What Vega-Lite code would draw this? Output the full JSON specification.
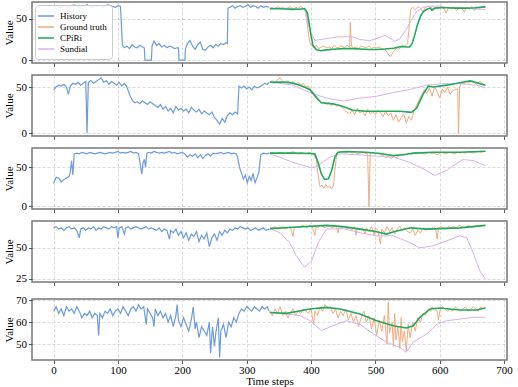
{
"$schema":"https://vega.github.io/schema/vega-lite/v6.json",
"padding":{"left":2,"top":1,"right":5,"bottom":0},
"spacing":6,
"datasets":{"d":[
{"p":1,"s":"H","x":0,"y":64},{"p":1,"s":"H","x":4,"y":66},{"p":1,"s":"H","x":8,"y":65},{"p":1,"s":"H","x":12,"y":63},{"p":1,"s":"H","x":16,"y":66},{"p":1,"s":"H","x":20,"y":65},{"p":1,"s":"H","x":24,"y":64},{"p":1,"s":"H","x":28,"y":66},{"p":1,"s":"H","x":32,"y":67},{"p":1,"s":"H","x":36,"y":65},{"p":1,"s":"H","x":40,"y":64},{"p":1,"s":"H","x":44,"y":66},{"p":1,"s":"H","x":48,"y":65},{"p":1,"s":"H","x":52,"y":67},{"p":1,"s":"H","x":56,"y":65},{"p":1,"s":"H","x":60,"y":64},{"p":1,"s":"H","x":64,"y":66},{"p":1,"s":"H","x":68,"y":65},{"p":1,"s":"H","x":72,"y":66},{"p":1,"s":"H","x":76,"y":64},{"p":1,"s":"H","x":80,"y":65},{"p":1,"s":"H","x":84,"y":67},{"p":1,"s":"H","x":88,"y":66},{"p":1,"s":"H","x":92,"y":65},{"p":1,"s":"H","x":96,"y":64},{"p":1,"s":"H","x":100,"y":66},{"p":1,"s":"H","x":104,"y":65},{"p":1,"s":"H","x":107,"y":18},{"p":1,"s":"H","x":110,"y":15},{"p":1,"s":"H","x":114,"y":17},{"p":1,"s":"H","x":118,"y":14},{"p":1,"s":"H","x":122,"y":19},{"p":1,"s":"H","x":126,"y":16},{"p":1,"s":"H","x":130,"y":15},{"p":1,"s":"H","x":134,"y":18},{"p":1,"s":"H","x":138,"y":16},{"p":1,"s":"H","x":141,"y":15},{"p":1,"s":"H","x":142,"y":0},{"p":1,"s":"H","x":148,"y":0},{"p":1,"s":"H","x":152,"y":0},{"p":1,"s":"H","x":153,"y":17},{"p":1,"s":"H","x":156,"y":23},{"p":1,"s":"H","x":160,"y":18},{"p":1,"s":"H","x":164,"y":20},{"p":1,"s":"H","x":168,"y":16},{"p":1,"s":"H","x":172,"y":18},{"p":1,"s":"H","x":176,"y":15},{"p":1,"s":"H","x":180,"y":17},{"p":1,"s":"H","x":184,"y":16},{"p":1,"s":"H","x":188,"y":14},{"p":1,"s":"H","x":192,"y":15},{"p":1,"s":"H","x":194,"y":15},{"p":1,"s":"H","x":195,"y":0},{"p":1,"s":"H","x":200,"y":0},{"p":1,"s":"H","x":204,"y":0},{"p":1,"s":"H","x":205,"y":14},{"p":1,"s":"H","x":208,"y":20},{"p":1,"s":"H","x":212,"y":24},{"p":1,"s":"H","x":216,"y":17},{"p":1,"s":"H","x":220,"y":13},{"p":1,"s":"H","x":224,"y":19},{"p":1,"s":"H","x":228,"y":22},{"p":1,"s":"H","x":232,"y":13},{"p":1,"s":"H","x":236,"y":12},{"p":1,"s":"H","x":240,"y":16},{"p":1,"s":"H","x":244,"y":18},{"p":1,"s":"H","x":248,"y":15},{"p":1,"s":"H","x":252,"y":19},{"p":1,"s":"H","x":256,"y":17},{"p":1,"s":"H","x":260,"y":20},{"p":1,"s":"H","x":264,"y":19},{"p":1,"s":"H","x":268,"y":21},{"p":1,"s":"H","x":270,"y":20},{"p":1,"s":"H","x":271,"y":63},{"p":1,"s":"H","x":274,"y":64},{"p":1,"s":"H","x":278,"y":66},{"p":1,"s":"H","x":282,"y":63},{"p":1,"s":"H","x":286,"y":65},{"p":1,"s":"H","x":290,"y":66},{"p":1,"s":"H","x":294,"y":64},{"p":1,"s":"H","x":298,"y":65},{"p":1,"s":"H","x":302,"y":67},{"p":1,"s":"H","x":306,"y":64},{"p":1,"s":"H","x":310,"y":66},{"p":1,"s":"H","x":314,"y":65},{"p":1,"s":"H","x":318,"y":63},{"p":1,"s":"H","x":322,"y":66},{"p":1,"s":"H","x":326,"y":64},{"p":1,"s":"H","x":330,"y":65},{"p":1,"s":"H","x":335,"y":64},
{"p":1,"s":"G","x":336,"y":63},{"p":1,"s":"G","x":340,"y":64},{"p":1,"s":"G","x":344,"y":62},{"p":1,"s":"G","x":348,"y":65},{"p":1,"s":"G","x":352,"y":63},{"p":1,"s":"G","x":356,"y":64},{"p":1,"s":"G","x":360,"y":62},{"p":1,"s":"G","x":364,"y":63},{"p":1,"s":"G","x":368,"y":65},{"p":1,"s":"G","x":372,"y":62},{"p":1,"s":"G","x":376,"y":64},{"p":1,"s":"G","x":380,"y":63},{"p":1,"s":"G","x":384,"y":65},{"p":1,"s":"G","x":388,"y":63},{"p":1,"s":"G","x":392,"y":60},{"p":1,"s":"G","x":395,"y":38},{"p":1,"s":"G","x":398,"y":22},{"p":1,"s":"G","x":401,"y":17},{"p":1,"s":"G","x":404,"y":15},{"p":1,"s":"G","x":408,"y":18},{"p":1,"s":"G","x":412,"y":14},{"p":1,"s":"G","x":416,"y":16},{"p":1,"s":"G","x":420,"y":17},{"p":1,"s":"G","x":424,"y":15},{"p":1,"s":"G","x":428,"y":16},{"p":1,"s":"G","x":432,"y":14},{"p":1,"s":"G","x":436,"y":18},{"p":1,"s":"G","x":440,"y":15},{"p":1,"s":"G","x":444,"y":16},{"p":1,"s":"G","x":448,"y":17},{"p":1,"s":"G","x":452,"y":15},{"p":1,"s":"G","x":456,"y":18},{"p":1,"s":"G","x":460,"y":16},{"p":1,"s":"G","x":461,"y":46},{"p":1,"s":"G","x":463,"y":17},{"p":1,"s":"G","x":466,"y":15},{"p":1,"s":"G","x":470,"y":16},{"p":1,"s":"G","x":474,"y":14},{"p":1,"s":"G","x":478,"y":17},{"p":1,"s":"G","x":482,"y":16},{"p":1,"s":"G","x":486,"y":15},{"p":1,"s":"G","x":490,"y":17},{"p":1,"s":"G","x":494,"y":14},{"p":1,"s":"G","x":498,"y":16},{"p":1,"s":"G","x":502,"y":15},{"p":1,"s":"G","x":506,"y":16},{"p":1,"s":"G","x":510,"y":14},{"p":1,"s":"G","x":514,"y":13},{"p":1,"s":"G","x":518,"y":10},{"p":1,"s":"G","x":521,"y":6},{"p":1,"s":"G","x":524,"y":4.5},{"p":1,"s":"G","x":527,"y":9},{"p":1,"s":"G","x":530,"y":12},{"p":1,"s":"G","x":534,"y":15},{"p":1,"s":"G","x":538,"y":14},{"p":1,"s":"G","x":542,"y":18},{"p":1,"s":"G","x":546,"y":17},{"p":1,"s":"G","x":550,"y":20},{"p":1,"s":"G","x":553,"y":45},{"p":1,"s":"G","x":555,"y":62},{"p":1,"s":"G","x":558,"y":64},{"p":1,"s":"G","x":562,"y":61},{"p":1,"s":"G","x":566,"y":65},{"p":1,"s":"G","x":570,"y":63},{"p":1,"s":"G","x":574,"y":58},{"p":1,"s":"G","x":578,"y":64},{"p":1,"s":"G","x":582,"y":62},{"p":1,"s":"G","x":586,"y":65},{"p":1,"s":"G","x":590,"y":60},{"p":1,"s":"G","x":594,"y":64},{"p":1,"s":"G","x":598,"y":62},{"p":1,"s":"G","x":602,"y":66},{"p":1,"s":"G","x":606,"y":63},{"p":1,"s":"G","x":610,"y":57},{"p":1,"s":"G","x":614,"y":64},{"p":1,"s":"G","x":618,"y":62},{"p":1,"s":"G","x":622,"y":65},{"p":1,"s":"G","x":626,"y":60},{"p":1,"s":"G","x":630,"y":64},{"p":1,"s":"G","x":634,"y":63},{"p":1,"s":"G","x":638,"y":58},{"p":1,"s":"G","x":642,"y":64},{"p":1,"s":"G","x":646,"y":62},{"p":1,"s":"G","x":650,"y":65},{"p":1,"s":"G","x":654,"y":60},{"p":1,"s":"G","x":658,"y":64},{"p":1,"s":"G","x":662,"y":63},{"p":1,"s":"G","x":666,"y":65},{"p":1,"s":"G","x":671,"y":64},
{"p":1,"s":"C","x":336,"y":62},{"p":1,"s":"C","x":346,"y":62.5},{"p":1,"s":"C","x":360,"y":62},{"p":1,"s":"C","x":372,"y":61.5},{"p":1,"s":"C","x":385,"y":62},{"p":1,"s":"C","x":390,"y":62.5},{"p":1,"s":"C","x":394,"y":58},{"p":1,"s":"C","x":397,"y":45},{"p":1,"s":"C","x":400,"y":30},{"p":1,"s":"C","x":403,"y":18},{"p":1,"s":"C","x":408,"y":13},{"p":1,"s":"C","x":415,"y":11.5},{"p":1,"s":"C","x":424,"y":12.5},{"p":1,"s":"C","x":440,"y":13.5},{"p":1,"s":"C","x":450,"y":14},{"p":1,"s":"C","x":465,"y":14},{"p":1,"s":"C","x":476,"y":13.5},{"p":1,"s":"C","x":490,"y":13},{"p":1,"s":"C","x":502,"y":13},{"p":1,"s":"C","x":515,"y":13.5},{"p":1,"s":"C","x":528,"y":14.5},{"p":1,"s":"C","x":540,"y":16.5},{"p":1,"s":"C","x":548,"y":16},{"p":1,"s":"C","x":553,"y":16},{"p":1,"s":"C","x":557,"y":20},{"p":1,"s":"C","x":561,"y":30},{"p":1,"s":"C","x":565,"y":42},{"p":1,"s":"C","x":570,"y":53},{"p":1,"s":"C","x":575,"y":59},{"p":1,"s":"C","x":580,"y":61.5},{"p":1,"s":"C","x":585,"y":63},{"p":1,"s":"C","x":588,"y":60.5},{"p":1,"s":"C","x":592,"y":63},{"p":1,"s":"C","x":600,"y":63.5},{"p":1,"s":"C","x":611,"y":63.5},{"p":1,"s":"C","x":625,"y":63},{"p":1,"s":"C","x":640,"y":63},{"p":1,"s":"C","x":655,"y":63.5},{"p":1,"s":"C","x":671,"y":64.5},
{"p":1,"s":"S","x":336,"y":63},{"p":1,"s":"S","x":350,"y":62.5},{"p":1,"s":"S","x":365,"y":63},{"p":1,"s":"S","x":380,"y":62},{"p":1,"s":"S","x":390,"y":62},{"p":1,"s":"S","x":395,"y":45},{"p":1,"s":"S","x":400,"y":33},{"p":1,"s":"S","x":406,"y":24},{"p":1,"s":"S","x":414,"y":25},{"p":1,"s":"S","x":424,"y":26},{"p":1,"s":"S","x":440,"y":28},{"p":1,"s":"S","x":455,"y":28.5},{"p":1,"s":"S","x":466,"y":28},{"p":1,"s":"S","x":476,"y":25},{"p":1,"s":"S","x":491,"y":23.6},{"p":1,"s":"S","x":504,"y":26.8},{"p":1,"s":"S","x":515,"y":30},{"p":1,"s":"S","x":522,"y":27},{"p":1,"s":"S","x":530,"y":22.8},{"p":1,"s":"S","x":538,"y":26},{"p":1,"s":"S","x":548,"y":37},{"p":1,"s":"S","x":556,"y":49},{"p":1,"s":"S","x":564,"y":59},{"p":1,"s":"S","x":574,"y":64},{"p":1,"s":"S","x":585,"y":65.4},{"p":1,"s":"S","x":600,"y":65.5},{"p":1,"s":"S","x":611,"y":64},{"p":1,"s":"S","x":631,"y":63},{"p":1,"s":"S","x":652,"y":62},{"p":1,"s":"S","x":671,"y":61.5},
{"p":2,"s":"H","x":0,"y":47},{"p":2,"s":"H","x":4,"y":50},{"p":2,"s":"H","x":8,"y":52},{"p":2,"s":"H","x":12,"y":51},{"p":2,"s":"H","x":16,"y":53},{"p":2,"s":"H","x":20,"y":50},{"p":2,"s":"H","x":23,"y":42},{"p":2,"s":"H","x":26,"y":51},{"p":2,"s":"H","x":30,"y":54},{"p":2,"s":"H","x":34,"y":53},{"p":2,"s":"H","x":38,"y":55},{"p":2,"s":"H","x":42,"y":52},{"p":2,"s":"H","x":46,"y":54},{"p":2,"s":"H","x":50,"y":56},{"p":2,"s":"H","x":52,"y":0},{"p":2,"s":"H","x":54,"y":55},{"p":2,"s":"H","x":58,"y":57},{"p":2,"s":"H","x":62,"y":54},{"p":2,"s":"H","x":66,"y":56},{"p":2,"s":"H","x":70,"y":58},{"p":2,"s":"H","x":74,"y":60},{"p":2,"s":"H","x":78,"y":55},{"p":2,"s":"H","x":82,"y":57},{"p":2,"s":"H","x":86,"y":53},{"p":2,"s":"H","x":90,"y":56},{"p":2,"s":"H","x":94,"y":54},{"p":2,"s":"H","x":98,"y":52},{"p":2,"s":"H","x":102,"y":55},{"p":2,"s":"H","x":106,"y":51},{"p":2,"s":"H","x":110,"y":54},{"p":2,"s":"H","x":114,"y":50},{"p":2,"s":"H","x":118,"y":42},{"p":2,"s":"H","x":122,"y":36},{"p":2,"s":"H","x":126,"y":33},{"p":2,"s":"H","x":130,"y":34},{"p":2,"s":"H","x":134,"y":32},{"p":2,"s":"H","x":138,"y":35},{"p":2,"s":"H","x":142,"y":33},{"p":2,"s":"H","x":146,"y":31},{"p":2,"s":"H","x":150,"y":34},{"p":2,"s":"H","x":154,"y":32},{"p":2,"s":"H","x":158,"y":30},{"p":2,"s":"H","x":162,"y":28},{"p":2,"s":"H","x":166,"y":31},{"p":2,"s":"H","x":170,"y":26},{"p":2,"s":"H","x":174,"y":29},{"p":2,"s":"H","x":178,"y":24},{"p":2,"s":"H","x":182,"y":27},{"p":2,"s":"H","x":186,"y":22},{"p":2,"s":"H","x":190,"y":29},{"p":2,"s":"H","x":194,"y":25},{"p":2,"s":"H","x":198,"y":27},{"p":2,"s":"H","x":202,"y":24},{"p":2,"s":"H","x":206,"y":26},{"p":2,"s":"H","x":210,"y":22},{"p":2,"s":"H","x":214,"y":28},{"p":2,"s":"H","x":218,"y":25},{"p":2,"s":"H","x":222,"y":23},{"p":2,"s":"H","x":226,"y":26},{"p":2,"s":"H","x":230,"y":21},{"p":2,"s":"H","x":234,"y":24},{"p":2,"s":"H","x":238,"y":22},{"p":2,"s":"H","x":242,"y":20},{"p":2,"s":"H","x":246,"y":23},{"p":2,"s":"H","x":250,"y":17},{"p":2,"s":"H","x":254,"y":14},{"p":2,"s":"H","x":258,"y":10},{"p":2,"s":"H","x":262,"y":16},{"p":2,"s":"H","x":266,"y":12},{"p":2,"s":"H","x":270,"y":19},{"p":2,"s":"H","x":274,"y":22},{"p":2,"s":"H","x":278,"y":20},{"p":2,"s":"H","x":282,"y":23},{"p":2,"s":"H","x":286,"y":21},{"p":2,"s":"H","x":288,"y":51},{"p":2,"s":"H","x":292,"y":49},{"p":2,"s":"H","x":296,"y":51},{"p":2,"s":"H","x":300,"y":48},{"p":2,"s":"H","x":304,"y":50},{"p":2,"s":"H","x":308,"y":47},{"p":2,"s":"H","x":312,"y":51},{"p":2,"s":"H","x":316,"y":49},{"p":2,"s":"H","x":320,"y":50},{"p":2,"s":"H","x":324,"y":52},{"p":2,"s":"H","x":328,"y":54},{"p":2,"s":"H","x":332,"y":53},{"p":2,"s":"H","x":335,"y":55},
{"p":2,"s":"G","x":336,"y":55},{"p":2,"s":"G","x":340,"y":57},{"p":2,"s":"G","x":344,"y":54},{"p":2,"s":"G","x":348,"y":58},{"p":2,"s":"G","x":352,"y":60},{"p":2,"s":"G","x":356,"y":56},{"p":2,"s":"G","x":360,"y":55},{"p":2,"s":"G","x":364,"y":57},{"p":2,"s":"G","x":368,"y":54},{"p":2,"s":"G","x":372,"y":56},{"p":2,"s":"G","x":376,"y":53},{"p":2,"s":"G","x":380,"y":55},{"p":2,"s":"G","x":384,"y":52},{"p":2,"s":"G","x":388,"y":54},{"p":2,"s":"G","x":392,"y":50},{"p":2,"s":"G","x":396,"y":51},{"p":2,"s":"G","x":400,"y":47},{"p":2,"s":"G","x":404,"y":44},{"p":2,"s":"G","x":408,"y":40},{"p":2,"s":"G","x":412,"y":36},{"p":2,"s":"G","x":416,"y":33},{"p":2,"s":"G","x":420,"y":34},{"p":2,"s":"G","x":424,"y":31},{"p":2,"s":"G","x":428,"y":33},{"p":2,"s":"G","x":432,"y":30},{"p":2,"s":"G","x":436,"y":32},{"p":2,"s":"G","x":440,"y":29},{"p":2,"s":"G","x":444,"y":31},{"p":2,"s":"G","x":448,"y":28},{"p":2,"s":"G","x":452,"y":25},{"p":2,"s":"G","x":456,"y":23},{"p":2,"s":"G","x":460,"y":21},{"p":2,"s":"G","x":464,"y":25},{"p":2,"s":"G","x":468,"y":20},{"p":2,"s":"G","x":472,"y":27},{"p":2,"s":"G","x":476,"y":22},{"p":2,"s":"G","x":480,"y":24},{"p":2,"s":"G","x":484,"y":19},{"p":2,"s":"G","x":488,"y":26},{"p":2,"s":"G","x":492,"y":21},{"p":2,"s":"G","x":496,"y":23},{"p":2,"s":"G","x":500,"y":20},{"p":2,"s":"G","x":504,"y":25},{"p":2,"s":"G","x":508,"y":22},{"p":2,"s":"G","x":512,"y":18},{"p":2,"s":"G","x":516,"y":24},{"p":2,"s":"G","x":520,"y":19},{"p":2,"s":"G","x":524,"y":22},{"p":2,"s":"G","x":528,"y":14},{"p":2,"s":"G","x":532,"y":20},{"p":2,"s":"G","x":536,"y":12},{"p":2,"s":"G","x":540,"y":17},{"p":2,"s":"G","x":544,"y":21},{"p":2,"s":"G","x":548,"y":11},{"p":2,"s":"G","x":552,"y":18},{"p":2,"s":"G","x":556,"y":14},{"p":2,"s":"G","x":560,"y":24},{"p":2,"s":"G","x":564,"y":30},{"p":2,"s":"G","x":568,"y":36},{"p":2,"s":"G","x":572,"y":42},{"p":2,"s":"G","x":576,"y":47},{"p":2,"s":"G","x":580,"y":43},{"p":2,"s":"G","x":584,"y":49},{"p":2,"s":"G","x":588,"y":40},{"p":2,"s":"G","x":592,"y":50},{"p":2,"s":"G","x":596,"y":45},{"p":2,"s":"G","x":600,"y":38},{"p":2,"s":"G","x":604,"y":48},{"p":2,"s":"G","x":608,"y":44},{"p":2,"s":"G","x":612,"y":50},{"p":2,"s":"G","x":616,"y":42},{"p":2,"s":"G","x":620,"y":46},{"p":2,"s":"G","x":624,"y":47},{"p":2,"s":"G","x":628,"y":48},{"p":2,"s":"G","x":629,"y":0},{"p":2,"s":"G","x":631,"y":50},{"p":2,"s":"G","x":634,"y":55},{"p":2,"s":"G","x":638,"y":53},{"p":2,"s":"G","x":642,"y":56},{"p":2,"s":"G","x":646,"y":54},{"p":2,"s":"G","x":650,"y":57},{"p":2,"s":"G","x":654,"y":55},{"p":2,"s":"G","x":658,"y":53},{"p":2,"s":"G","x":662,"y":56},{"p":2,"s":"G","x":666,"y":54},{"p":2,"s":"G","x":671,"y":52},
{"p":2,"s":"C","x":336,"y":55},{"p":2,"s":"C","x":350,"y":55.5},{"p":2,"s":"C","x":362,"y":55},{"p":2,"s":"C","x":370,"y":54.5},{"p":2,"s":"C","x":383,"y":52},{"p":2,"s":"C","x":398,"y":47.4},{"p":2,"s":"C","x":409,"y":38},{"p":2,"s":"C","x":416,"y":33},{"p":2,"s":"C","x":434,"y":31.8},{"p":2,"s":"C","x":450,"y":29},{"p":2,"s":"C","x":465,"y":24.8},{"p":2,"s":"C","x":486,"y":23.7},{"p":2,"s":"C","x":517,"y":23.7},{"p":2,"s":"C","x":538,"y":23.7},{"p":2,"s":"C","x":556,"y":22.6},{"p":2,"s":"C","x":564,"y":27},{"p":2,"s":"C","x":574,"y":42},{"p":2,"s":"C","x":582,"y":51},{"p":2,"s":"C","x":590,"y":50},{"p":2,"s":"C","x":611,"y":52},{"p":2,"s":"C","x":631,"y":54.7},{"p":2,"s":"C","x":647,"y":56.6},{"p":2,"s":"C","x":671,"y":52},
{"p":2,"s":"S","x":336,"y":55},{"p":2,"s":"S","x":350,"y":54},{"p":2,"s":"S","x":372,"y":52},{"p":2,"s":"S","x":398,"y":44},{"p":2,"s":"S","x":424,"y":38},{"p":2,"s":"S","x":450,"y":34.7},{"p":2,"s":"S","x":476,"y":38},{"p":2,"s":"S","x":502,"y":40},{"p":2,"s":"S","x":528,"y":44},{"p":2,"s":"S","x":554,"y":47.4},{"p":2,"s":"S","x":580,"y":52},{"p":2,"s":"S","x":605,"y":53.6},{"p":2,"s":"S","x":631,"y":53.6},{"p":2,"s":"S","x":657,"y":52},{"p":2,"s":"S","x":671,"y":49},
{"p":3,"s":"H","x":0,"y":29},{"p":3,"s":"H","x":4,"y":37},{"p":3,"s":"H","x":8,"y":36},{"p":3,"s":"H","x":12,"y":31},{"p":3,"s":"H","x":16,"y":34},{"p":3,"s":"H","x":20,"y":36},{"p":3,"s":"H","x":24,"y":38},{"p":3,"s":"H","x":26,"y":44},{"p":3,"s":"H","x":28,"y":58},{"p":3,"s":"H","x":30,"y":40},{"p":3,"s":"H","x":32,"y":67},{"p":3,"s":"H","x":36,"y":68},{"p":3,"s":"H","x":40,"y":67},{"p":3,"s":"H","x":44,"y":69},{"p":3,"s":"H","x":48,"y":68},{"p":3,"s":"H","x":52,"y":67},{"p":3,"s":"H","x":56,"y":69},{"p":3,"s":"H","x":60,"y":68},{"p":3,"s":"H","x":64,"y":67},{"p":3,"s":"H","x":68,"y":68},{"p":3,"s":"H","x":72,"y":69},{"p":3,"s":"H","x":76,"y":68},{"p":3,"s":"H","x":80,"y":67},{"p":3,"s":"H","x":84,"y":68},{"p":3,"s":"H","x":88,"y":69},{"p":3,"s":"H","x":92,"y":68},{"p":3,"s":"H","x":96,"y":69},{"p":3,"s":"H","x":100,"y":70},{"p":3,"s":"H","x":104,"y":68},{"p":3,"s":"H","x":108,"y":69},{"p":3,"s":"H","x":112,"y":68},{"p":3,"s":"H","x":116,"y":69},{"p":3,"s":"H","x":120,"y":70},{"p":3,"s":"H","x":124,"y":68},{"p":3,"s":"H","x":128,"y":69},{"p":3,"s":"H","x":132,"y":67},{"p":3,"s":"H","x":135,"y":52},{"p":3,"s":"H","x":137,"y":41},{"p":3,"s":"H","x":139,"y":55},{"p":3,"s":"H","x":141,"y":60},{"p":3,"s":"H","x":143,"y":50},{"p":3,"s":"H","x":145,"y":68},{"p":3,"s":"H","x":148,"y":69},{"p":3,"s":"H","x":152,"y":68},{"p":3,"s":"H","x":156,"y":70},{"p":3,"s":"H","x":160,"y":69},{"p":3,"s":"H","x":164,"y":68},{"p":3,"s":"H","x":168,"y":69},{"p":3,"s":"H","x":172,"y":68},{"p":3,"s":"H","x":176,"y":69},{"p":3,"s":"H","x":180,"y":70},{"p":3,"s":"H","x":184,"y":68},{"p":3,"s":"H","x":188,"y":69},{"p":3,"s":"H","x":192,"y":67},{"p":3,"s":"H","x":196,"y":68},{"p":3,"s":"H","x":200,"y":69},{"p":3,"s":"H","x":204,"y":67},{"p":3,"s":"H","x":208,"y":63},{"p":3,"s":"H","x":212,"y":66},{"p":3,"s":"H","x":216,"y":64},{"p":3,"s":"H","x":220,"y":67},{"p":3,"s":"H","x":224,"y":62},{"p":3,"s":"H","x":228,"y":66},{"p":3,"s":"H","x":232,"y":61},{"p":3,"s":"H","x":236,"y":65},{"p":3,"s":"H","x":240,"y":67},{"p":3,"s":"H","x":244,"y":64},{"p":3,"s":"H","x":248,"y":68},{"p":3,"s":"H","x":252,"y":67},{"p":3,"s":"H","x":256,"y":68},{"p":3,"s":"H","x":260,"y":69},{"p":3,"s":"H","x":264,"y":67},{"p":3,"s":"H","x":268,"y":68},{"p":3,"s":"H","x":272,"y":69},{"p":3,"s":"H","x":276,"y":67},{"p":3,"s":"H","x":280,"y":68},{"p":3,"s":"H","x":284,"y":67},{"p":3,"s":"H","x":286,"y":62},{"p":3,"s":"H","x":289,"y":50},{"p":3,"s":"H","x":292,"y":42},{"p":3,"s":"H","x":295,"y":35},{"p":3,"s":"H","x":298,"y":40},{"p":3,"s":"H","x":301,"y":30},{"p":3,"s":"H","x":304,"y":38},{"p":3,"s":"H","x":307,"y":33},{"p":3,"s":"H","x":310,"y":42},{"p":3,"s":"H","x":313,"y":30},{"p":3,"s":"H","x":316,"y":36},{"p":3,"s":"H","x":319,"y":44},{"p":3,"s":"H","x":322,"y":66},{"p":3,"s":"H","x":326,"y":68},{"p":3,"s":"H","x":330,"y":67},{"p":3,"s":"H","x":335,"y":68},
{"p":3,"s":"G","x":336,"y":68},{"p":3,"s":"G","x":340,"y":69},{"p":3,"s":"G","x":344,"y":67},{"p":3,"s":"G","x":348,"y":68},{"p":3,"s":"G","x":352,"y":69},{"p":3,"s":"G","x":356,"y":68},{"p":3,"s":"G","x":360,"y":67},{"p":3,"s":"G","x":364,"y":69},{"p":3,"s":"G","x":368,"y":68},{"p":3,"s":"G","x":372,"y":70},{"p":3,"s":"G","x":376,"y":68},{"p":3,"s":"G","x":380,"y":67},{"p":3,"s":"G","x":384,"y":69},{"p":3,"s":"G","x":388,"y":68},{"p":3,"s":"G","x":392,"y":67},{"p":3,"s":"G","x":396,"y":69},{"p":3,"s":"G","x":400,"y":68},{"p":3,"s":"G","x":404,"y":66},{"p":3,"s":"G","x":408,"y":60},{"p":3,"s":"G","x":411,"y":40},{"p":3,"s":"G","x":414,"y":25},{"p":3,"s":"G","x":417,"y":27},{"p":3,"s":"G","x":420,"y":23},{"p":3,"s":"G","x":423,"y":28},{"p":3,"s":"G","x":426,"y":24},{"p":3,"s":"G","x":429,"y":26},{"p":3,"s":"G","x":432,"y":22},{"p":3,"s":"G","x":435,"y":27},{"p":3,"s":"G","x":437,"y":45},{"p":3,"s":"G","x":440,"y":68},{"p":3,"s":"G","x":444,"y":69},{"p":3,"s":"G","x":448,"y":70},{"p":3,"s":"G","x":452,"y":68},{"p":3,"s":"G","x":456,"y":69},{"p":3,"s":"G","x":460,"y":70},{"p":3,"s":"G","x":464,"y":68},{"p":3,"s":"G","x":468,"y":69},{"p":3,"s":"G","x":472,"y":67},{"p":3,"s":"G","x":476,"y":68},{"p":3,"s":"G","x":480,"y":69},{"p":3,"s":"G","x":484,"y":68},{"p":3,"s":"G","x":488,"y":67},{"p":3,"s":"G","x":490,"y":0},{"p":3,"s":"G","x":492,"y":68},{"p":3,"s":"G","x":496,"y":69},{"p":3,"s":"G","x":500,"y":67},{"p":3,"s":"G","x":504,"y":68},{"p":3,"s":"G","x":508,"y":66},{"p":3,"s":"G","x":512,"y":65},{"p":3,"s":"G","x":516,"y":62},{"p":3,"s":"G","x":520,"y":64},{"p":3,"s":"G","x":524,"y":61},{"p":3,"s":"G","x":528,"y":63},{"p":3,"s":"G","x":532,"y":62},{"p":3,"s":"G","x":536,"y":64},{"p":3,"s":"G","x":540,"y":66},{"p":3,"s":"G","x":544,"y":65},{"p":3,"s":"G","x":548,"y":67},{"p":3,"s":"G","x":552,"y":68},{"p":3,"s":"G","x":556,"y":66},{"p":3,"s":"G","x":560,"y":68},{"p":3,"s":"G","x":564,"y":67},{"p":3,"s":"G","x":568,"y":69},{"p":3,"s":"G","x":572,"y":68},{"p":3,"s":"G","x":576,"y":67},{"p":3,"s":"G","x":580,"y":68},{"p":3,"s":"G","x":584,"y":69},{"p":3,"s":"G","x":588,"y":67},{"p":3,"s":"G","x":592,"y":68},{"p":3,"s":"G","x":596,"y":66},{"p":3,"s":"G","x":600,"y":68},{"p":3,"s":"G","x":604,"y":69},{"p":3,"s":"G","x":608,"y":67},{"p":3,"s":"G","x":612,"y":68},{"p":3,"s":"G","x":616,"y":69},{"p":3,"s":"G","x":620,"y":68},{"p":3,"s":"G","x":624,"y":67},{"p":3,"s":"G","x":628,"y":69},{"p":3,"s":"G","x":632,"y":68},{"p":3,"s":"G","x":636,"y":69},{"p":3,"s":"G","x":640,"y":68},{"p":3,"s":"G","x":644,"y":70},{"p":3,"s":"G","x":648,"y":69},{"p":3,"s":"G","x":652,"y":68},{"p":3,"s":"G","x":656,"y":69},{"p":3,"s":"G","x":660,"y":70},{"p":3,"s":"G","x":664,"y":69},{"p":3,"s":"G","x":668,"y":70},{"p":3,"s":"G","x":671,"y":70},
{"p":3,"s":"C","x":336,"y":68},{"p":3,"s":"C","x":372,"y":68},{"p":3,"s":"C","x":400,"y":67.5},{"p":3,"s":"C","x":406,"y":67},{"p":3,"s":"C","x":411,"y":56},{"p":3,"s":"C","x":416,"y":41.5},{"p":3,"s":"C","x":421,"y":34.3},{"p":3,"s":"C","x":427,"y":35},{"p":3,"s":"C","x":432,"y":45.8},{"p":3,"s":"C","x":437,"y":62.7},{"p":3,"s":"C","x":442,"y":69},{"p":3,"s":"C","x":455,"y":70},{"p":3,"s":"C","x":486,"y":69},{"p":3,"s":"C","x":507,"y":67.5},{"p":3,"s":"C","x":528,"y":64.8},{"p":3,"s":"C","x":548,"y":66.5},{"p":3,"s":"C","x":559,"y":68},{"p":3,"s":"C","x":590,"y":69},{"p":3,"s":"C","x":631,"y":69},{"p":3,"s":"C","x":671,"y":70.3},
{"p":3,"s":"S","x":336,"y":67},{"p":3,"s":"S","x":352,"y":62.7},{"p":3,"s":"S","x":372,"y":56},{"p":3,"s":"S","x":398,"y":50},{"p":3,"s":"S","x":406,"y":50},{"p":3,"s":"S","x":414,"y":54},{"p":3,"s":"S","x":429,"y":62.7},{"p":3,"s":"S","x":445,"y":67},{"p":3,"s":"S","x":476,"y":65.7},{"p":3,"s":"S","x":502,"y":64},{"p":3,"s":"S","x":528,"y":62.7},{"p":3,"s":"S","x":554,"y":56},{"p":3,"s":"S","x":574,"y":48},{"p":3,"s":"S","x":592,"y":39.4},{"p":3,"s":"S","x":611,"y":45.8},{"p":3,"s":"S","x":621,"y":52},{"p":3,"s":"S","x":636,"y":59.7},{"p":3,"s":"S","x":652,"y":58.5},{"p":3,"s":"S","x":671,"y":52},
{"p":4,"s":"H","x":0,"y":66},{"p":4,"s":"H","x":4,"y":67},{"p":4,"s":"H","x":8,"y":65},{"p":4,"s":"H","x":12,"y":66},{"p":4,"s":"H","x":16,"y":64},{"p":4,"s":"H","x":20,"y":66},{"p":4,"s":"H","x":24,"y":67},{"p":4,"s":"H","x":28,"y":65},{"p":4,"s":"H","x":32,"y":66},{"p":4,"s":"H","x":36,"y":64},{"p":4,"s":"H","x":40,"y":58},{"p":4,"s":"H","x":42,"y":65},{"p":4,"s":"H","x":46,"y":66},{"p":4,"s":"H","x":50,"y":64},{"p":4,"s":"H","x":54,"y":66},{"p":4,"s":"H","x":58,"y":65},{"p":4,"s":"H","x":62,"y":67},{"p":4,"s":"H","x":66,"y":64},{"p":4,"s":"H","x":70,"y":66},{"p":4,"s":"H","x":74,"y":65},{"p":4,"s":"H","x":78,"y":67},{"p":4,"s":"H","x":82,"y":66},{"p":4,"s":"H","x":86,"y":65},{"p":4,"s":"H","x":90,"y":67},{"p":4,"s":"H","x":94,"y":66},{"p":4,"s":"H","x":98,"y":67},{"p":4,"s":"H","x":100,"y":58},{"p":4,"s":"H","x":102,"y":66},{"p":4,"s":"H","x":106,"y":67},{"p":4,"s":"H","x":110,"y":61},{"p":4,"s":"H","x":112,"y":66},{"p":4,"s":"H","x":116,"y":67},{"p":4,"s":"H","x":120,"y":65},{"p":4,"s":"H","x":124,"y":66},{"p":4,"s":"H","x":128,"y":67},{"p":4,"s":"H","x":132,"y":66},{"p":4,"s":"H","x":136,"y":65},{"p":4,"s":"H","x":140,"y":66},{"p":4,"s":"H","x":144,"y":67},{"p":4,"s":"H","x":148,"y":65},{"p":4,"s":"H","x":152,"y":66},{"p":4,"s":"H","x":156,"y":65},{"p":4,"s":"H","x":160,"y":64},{"p":4,"s":"H","x":164,"y":66},{"p":4,"s":"H","x":168,"y":63},{"p":4,"s":"H","x":172,"y":65},{"p":4,"s":"H","x":176,"y":64},{"p":4,"s":"H","x":180,"y":57},{"p":4,"s":"H","x":182,"y":64},{"p":4,"s":"H","x":186,"y":62},{"p":4,"s":"H","x":190,"y":65},{"p":4,"s":"H","x":194,"y":60},{"p":4,"s":"H","x":198,"y":63},{"p":4,"s":"H","x":202,"y":58},{"p":4,"s":"H","x":206,"y":62},{"p":4,"s":"H","x":210,"y":56},{"p":4,"s":"H","x":214,"y":61},{"p":4,"s":"H","x":218,"y":59},{"p":4,"s":"H","x":222,"y":63},{"p":4,"s":"H","x":226,"y":55},{"p":4,"s":"H","x":230,"y":60},{"p":4,"s":"H","x":234,"y":57},{"p":4,"s":"H","x":238,"y":62},{"p":4,"s":"H","x":242,"y":51},{"p":4,"s":"H","x":246,"y":58},{"p":4,"s":"H","x":250,"y":61},{"p":4,"s":"H","x":254,"y":56},{"p":4,"s":"H","x":258,"y":63},{"p":4,"s":"H","x":262,"y":60},{"p":4,"s":"H","x":266,"y":64},{"p":4,"s":"H","x":270,"y":62},{"p":4,"s":"H","x":274,"y":65},{"p":4,"s":"H","x":278,"y":64},{"p":4,"s":"H","x":282,"y":66},{"p":4,"s":"H","x":286,"y":65},{"p":4,"s":"H","x":290,"y":67},{"p":4,"s":"H","x":294,"y":66},{"p":4,"s":"H","x":298,"y":65},{"p":4,"s":"H","x":302,"y":66},{"p":4,"s":"H","x":306,"y":64},{"p":4,"s":"H","x":310,"y":65},{"p":4,"s":"H","x":314,"y":66},{"p":4,"s":"H","x":318,"y":64},{"p":4,"s":"H","x":322,"y":65},{"p":4,"s":"H","x":326,"y":66},{"p":4,"s":"H","x":330,"y":64},{"p":4,"s":"H","x":335,"y":65},
{"p":4,"s":"G","x":336,"y":65},{"p":4,"s":"G","x":340,"y":66},{"p":4,"s":"G","x":344,"y":67},{"p":4,"s":"G","x":348,"y":65},{"p":4,"s":"G","x":352,"y":66},{"p":4,"s":"G","x":356,"y":67},{"p":4,"s":"G","x":360,"y":65},{"p":4,"s":"G","x":364,"y":66},{"p":4,"s":"G","x":368,"y":67},{"p":4,"s":"G","x":372,"y":59},{"p":4,"s":"G","x":374,"y":66},{"p":4,"s":"G","x":378,"y":67},{"p":4,"s":"G","x":382,"y":66},{"p":4,"s":"G","x":386,"y":68},{"p":4,"s":"G","x":390,"y":67},{"p":4,"s":"G","x":394,"y":66},{"p":4,"s":"G","x":398,"y":68},{"p":4,"s":"G","x":402,"y":67},{"p":4,"s":"G","x":406,"y":60},{"p":4,"s":"G","x":408,"y":67},{"p":4,"s":"G","x":412,"y":66},{"p":4,"s":"G","x":414,"y":68},{"p":4,"s":"G","x":418,"y":67},{"p":4,"s":"G","x":422,"y":66},{"p":4,"s":"G","x":426,"y":68},{"p":4,"s":"G","x":430,"y":67},{"p":4,"s":"G","x":434,"y":66},{"p":4,"s":"G","x":438,"y":68},{"p":4,"s":"G","x":442,"y":62},{"p":4,"s":"G","x":444,"y":67},{"p":4,"s":"G","x":448,"y":66},{"p":4,"s":"G","x":452,"y":67},{"p":4,"s":"G","x":456,"y":65},{"p":4,"s":"G","x":460,"y":66},{"p":4,"s":"G","x":464,"y":64},{"p":4,"s":"G","x":468,"y":67},{"p":4,"s":"G","x":470,"y":60},{"p":4,"s":"G","x":472,"y":66},{"p":4,"s":"G","x":476,"y":65},{"p":4,"s":"G","x":480,"y":66},{"p":4,"s":"G","x":484,"y":61},{"p":4,"s":"G","x":486,"y":66},{"p":4,"s":"G","x":490,"y":63},{"p":4,"s":"G","x":494,"y":67},{"p":4,"s":"G","x":498,"y":60},{"p":4,"s":"G","x":500,"y":66},{"p":4,"s":"G","x":504,"y":64},{"p":4,"s":"G","x":508,"y":53},{"p":4,"s":"G","x":510,"y":65},{"p":4,"s":"G","x":514,"y":62},{"p":4,"s":"G","x":518,"y":67},{"p":4,"s":"G","x":522,"y":63},{"p":4,"s":"G","x":526,"y":66},{"p":4,"s":"G","x":530,"y":61},{"p":4,"s":"G","x":534,"y":65},{"p":4,"s":"G","x":538,"y":67},{"p":4,"s":"G","x":542,"y":64},{"p":4,"s":"G","x":546,"y":66},{"p":4,"s":"G","x":550,"y":63},{"p":4,"s":"G","x":554,"y":62},{"p":4,"s":"G","x":558,"y":65},{"p":4,"s":"G","x":562,"y":60},{"p":4,"s":"G","x":566,"y":64},{"p":4,"s":"G","x":570,"y":62},{"p":4,"s":"G","x":574,"y":66},{"p":4,"s":"G","x":578,"y":64},{"p":4,"s":"G","x":582,"y":66},{"p":4,"s":"G","x":586,"y":65},{"p":4,"s":"G","x":590,"y":67},{"p":4,"s":"G","x":594,"y":65},{"p":4,"s":"G","x":596,"y":57},{"p":4,"s":"G","x":598,"y":66},{"p":4,"s":"G","x":602,"y":67},{"p":4,"s":"G","x":606,"y":66},{"p":4,"s":"G","x":610,"y":65},{"p":4,"s":"G","x":614,"y":67},{"p":4,"s":"G","x":618,"y":66},{"p":4,"s":"G","x":622,"y":67},{"p":4,"s":"G","x":626,"y":66},{"p":4,"s":"G","x":630,"y":68},{"p":4,"s":"G","x":634,"y":67},{"p":4,"s":"G","x":638,"y":66},{"p":4,"s":"G","x":642,"y":67},{"p":4,"s":"G","x":646,"y":68},{"p":4,"s":"G","x":650,"y":66},{"p":4,"s":"G","x":654,"y":67},{"p":4,"s":"G","x":658,"y":68},{"p":4,"s":"G","x":662,"y":67},{"p":4,"s":"G","x":666,"y":68},{"p":4,"s":"G","x":671,"y":68},
{"p":4,"s":"C","x":336,"y":65.4},{"p":4,"s":"C","x":372,"y":66.5},{"p":4,"s":"C","x":424,"y":68},{"p":4,"s":"C","x":450,"y":67},{"p":4,"s":"C","x":476,"y":65},{"p":4,"s":"C","x":500,"y":63},{"p":4,"s":"C","x":517,"y":61},{"p":4,"s":"C","x":530,"y":63},{"p":4,"s":"C","x":554,"y":66},{"p":4,"s":"C","x":580,"y":65},{"p":4,"s":"C","x":631,"y":66},{"p":4,"s":"C","x":671,"y":68},
{"p":4,"s":"S","x":336,"y":65.4},{"p":4,"s":"S","x":352,"y":62},{"p":4,"s":"S","x":367,"y":54},{"p":4,"s":"S","x":377,"y":43.6},{"p":4,"s":"S","x":390,"y":34.3},{"p":4,"s":"S","x":401,"y":39.6},{"p":4,"s":"S","x":411,"y":54},{"p":4,"s":"S","x":424,"y":65},{"p":4,"s":"S","x":450,"y":65.4},{"p":4,"s":"S","x":476,"y":62},{"p":4,"s":"S","x":502,"y":59.6},{"p":4,"s":"S","x":528,"y":59.6},{"p":4,"s":"S","x":554,"y":54},{"p":4,"s":"S","x":569,"y":50},{"p":4,"s":"S","x":590,"y":51.6},{"p":4,"s":"S","x":611,"y":55.6},{"p":4,"s":"S","x":631,"y":59.6},{"p":4,"s":"S","x":642,"y":58},{"p":4,"s":"S","x":652,"y":46},{"p":4,"s":"S","x":662,"y":31.6},{"p":4,"s":"S","x":671,"y":25},
{"p":5,"s":"H","x":0,"y":65},{"p":5,"s":"H","x":4,"y":67},{"p":5,"s":"H","x":8,"y":64},{"p":5,"s":"H","x":12,"y":66},{"p":5,"s":"H","x":16,"y":63},{"p":5,"s":"H","x":20,"y":67},{"p":5,"s":"H","x":24,"y":65},{"p":5,"s":"H","x":28,"y":66},{"p":5,"s":"H","x":32,"y":64},{"p":5,"s":"H","x":36,"y":67},{"p":5,"s":"H","x":40,"y":65},{"p":5,"s":"H","x":44,"y":62},{"p":5,"s":"H","x":48,"y":64},{"p":5,"s":"H","x":52,"y":63},{"p":5,"s":"H","x":56,"y":65},{"p":5,"s":"H","x":60,"y":62},{"p":5,"s":"H","x":64,"y":64},{"p":5,"s":"H","x":68,"y":63},{"p":5,"s":"H","x":70,"y":54},{"p":5,"s":"H","x":72,"y":64},{"p":5,"s":"H","x":76,"y":62},{"p":5,"s":"H","x":80,"y":65},{"p":5,"s":"H","x":84,"y":64},{"p":5,"s":"H","x":88,"y":66},{"p":5,"s":"H","x":92,"y":63},{"p":5,"s":"H","x":96,"y":65},{"p":5,"s":"H","x":100,"y":66},{"p":5,"s":"H","x":104,"y":64},{"p":5,"s":"H","x":108,"y":67},{"p":5,"s":"H","x":112,"y":65},{"p":5,"s":"H","x":116,"y":63},{"p":5,"s":"H","x":120,"y":66},{"p":5,"s":"H","x":124,"y":67},{"p":5,"s":"H","x":128,"y":65},{"p":5,"s":"H","x":132,"y":68},{"p":5,"s":"H","x":136,"y":66},{"p":5,"s":"H","x":140,"y":67},{"p":5,"s":"H","x":144,"y":59},{"p":5,"s":"H","x":146,"y":66},{"p":5,"s":"H","x":150,"y":64},{"p":5,"s":"H","x":154,"y":62},{"p":5,"s":"H","x":156,"y":58},{"p":5,"s":"H","x":158,"y":66},{"p":5,"s":"H","x":162,"y":63},{"p":5,"s":"H","x":166,"y":65},{"p":5,"s":"H","x":170,"y":62},{"p":5,"s":"H","x":174,"y":64},{"p":5,"s":"H","x":178,"y":60},{"p":5,"s":"H","x":182,"y":63},{"p":5,"s":"H","x":186,"y":58},{"p":5,"s":"H","x":190,"y":63},{"p":5,"s":"H","x":192,"y":68},{"p":5,"s":"H","x":194,"y":61},{"p":5,"s":"H","x":198,"y":58},{"p":5,"s":"H","x":202,"y":62},{"p":5,"s":"H","x":206,"y":59},{"p":5,"s":"H","x":210,"y":56},{"p":5,"s":"H","x":214,"y":61},{"p":5,"s":"H","x":217,"y":67},{"p":5,"s":"H","x":220,"y":57},{"p":5,"s":"H","x":222,"y":60},{"p":5,"s":"H","x":226,"y":53},{"p":5,"s":"H","x":230,"y":58},{"p":5,"s":"H","x":234,"y":56},{"p":5,"s":"H","x":238,"y":54},{"p":5,"s":"H","x":242,"y":60},{"p":5,"s":"H","x":244,"y":46},{"p":5,"s":"H","x":247,"y":58},{"p":5,"s":"H","x":250,"y":49},{"p":5,"s":"H","x":252,"y":55},{"p":5,"s":"H","x":256,"y":62},{"p":5,"s":"H","x":258,"y":44},{"p":5,"s":"H","x":260,"y":56},{"p":5,"s":"H","x":264,"y":59},{"p":5,"s":"H","x":268,"y":53},{"p":5,"s":"H","x":272,"y":60},{"p":5,"s":"H","x":276,"y":58},{"p":5,"s":"H","x":280,"y":62},{"p":5,"s":"H","x":284,"y":60},{"p":5,"s":"H","x":288,"y":64},{"p":5,"s":"H","x":292,"y":66},{"p":5,"s":"H","x":296,"y":65},{"p":5,"s":"H","x":300,"y":67},{"p":5,"s":"H","x":304,"y":66},{"p":5,"s":"H","x":308,"y":65},{"p":5,"s":"H","x":312,"y":67},{"p":5,"s":"H","x":316,"y":66},{"p":5,"s":"H","x":320,"y":65},{"p":5,"s":"H","x":324,"y":67},{"p":5,"s":"H","x":328,"y":66},{"p":5,"s":"H","x":332,"y":67},{"p":5,"s":"H","x":335,"y":65},
{"p":5,"s":"G","x":336,"y":65},{"p":5,"s":"G","x":340,"y":63},{"p":5,"s":"G","x":344,"y":66},{"p":5,"s":"G","x":348,"y":64},{"p":5,"s":"G","x":352,"y":67},{"p":5,"s":"G","x":356,"y":63},{"p":5,"s":"G","x":360,"y":65},{"p":5,"s":"G","x":364,"y":62},{"p":5,"s":"G","x":368,"y":64},{"p":5,"s":"G","x":372,"y":66},{"p":5,"s":"G","x":376,"y":63},{"p":5,"s":"G","x":380,"y":65},{"p":5,"s":"G","x":384,"y":64},{"p":5,"s":"G","x":388,"y":66},{"p":5,"s":"G","x":392,"y":65},{"p":5,"s":"G","x":396,"y":64},{"p":5,"s":"G","x":400,"y":66},{"p":5,"s":"G","x":404,"y":59},{"p":5,"s":"G","x":406,"y":65},{"p":5,"s":"G","x":410,"y":63},{"p":5,"s":"G","x":414,"y":67},{"p":5,"s":"G","x":418,"y":65},{"p":5,"s":"G","x":422,"y":68},{"p":5,"s":"G","x":426,"y":66},{"p":5,"s":"G","x":430,"y":67},{"p":5,"s":"G","x":434,"y":64},{"p":5,"s":"G","x":438,"y":66},{"p":5,"s":"G","x":442,"y":62},{"p":5,"s":"G","x":446,"y":65},{"p":5,"s":"G","x":450,"y":63},{"p":5,"s":"G","x":454,"y":66},{"p":5,"s":"G","x":458,"y":61},{"p":5,"s":"G","x":462,"y":64},{"p":5,"s":"G","x":466,"y":60},{"p":5,"s":"G","x":470,"y":63},{"p":5,"s":"G","x":474,"y":58},{"p":5,"s":"G","x":478,"y":62},{"p":5,"s":"G","x":482,"y":65},{"p":5,"s":"G","x":486,"y":60},{"p":5,"s":"G","x":490,"y":63},{"p":5,"s":"G","x":494,"y":57},{"p":5,"s":"G","x":498,"y":62},{"p":5,"s":"G","x":502,"y":54},{"p":5,"s":"G","x":506,"y":61},{"p":5,"s":"G","x":510,"y":56},{"p":5,"s":"G","x":514,"y":63},{"p":5,"s":"G","x":518,"y":50},{"p":5,"s":"G","x":520,"y":69},{"p":5,"s":"G","x":522,"y":55},{"p":5,"s":"G","x":526,"y":60},{"p":5,"s":"G","x":528,"y":49},{"p":5,"s":"G","x":530,"y":64},{"p":5,"s":"G","x":532,"y":52},{"p":5,"s":"G","x":535,"y":58},{"p":5,"s":"G","x":538,"y":48},{"p":5,"s":"G","x":540,"y":62},{"p":5,"s":"G","x":542,"y":51},{"p":5,"s":"G","x":545,"y":56},{"p":5,"s":"G","x":548,"y":47},{"p":5,"s":"G","x":551,"y":59},{"p":5,"s":"G","x":554,"y":53},{"p":5,"s":"G","x":558,"y":60},{"p":5,"s":"G","x":562,"y":56},{"p":5,"s":"G","x":566,"y":62},{"p":5,"s":"G","x":570,"y":60},{"p":5,"s":"G","x":574,"y":64},{"p":5,"s":"G","x":578,"y":63},{"p":5,"s":"G","x":582,"y":66},{"p":5,"s":"G","x":586,"y":65},{"p":5,"s":"G","x":588,"y":67},{"p":5,"s":"G","x":592,"y":66},{"p":5,"s":"G","x":596,"y":65},{"p":5,"s":"G","x":598,"y":61},{"p":5,"s":"G","x":600,"y":65},{"p":5,"s":"G","x":604,"y":67},{"p":5,"s":"G","x":608,"y":66},{"p":5,"s":"G","x":612,"y":65},{"p":5,"s":"G","x":616,"y":66},{"p":5,"s":"G","x":620,"y":65},{"p":5,"s":"G","x":624,"y":67},{"p":5,"s":"G","x":628,"y":66},{"p":5,"s":"G","x":632,"y":65},{"p":5,"s":"G","x":636,"y":66},{"p":5,"s":"G","x":640,"y":67},{"p":5,"s":"G","x":644,"y":65},{"p":5,"s":"G","x":648,"y":66},{"p":5,"s":"G","x":652,"y":67},{"p":5,"s":"G","x":656,"y":66},{"p":5,"s":"G","x":660,"y":65},{"p":5,"s":"G","x":664,"y":67},{"p":5,"s":"G","x":668,"y":66},{"p":5,"s":"G","x":671,"y":67},
{"p":5,"s":"C","x":336,"y":64.4},{"p":5,"s":"C","x":362,"y":64},{"p":5,"s":"C","x":398,"y":66},{"p":5,"s":"C","x":424,"y":66.7},{"p":5,"s":"C","x":445,"y":66},{"p":5,"s":"C","x":476,"y":63.7},{"p":5,"s":"C","x":502,"y":60.7},{"p":5,"s":"C","x":528,"y":58.4},{"p":5,"s":"C","x":548,"y":57.4},{"p":5,"s":"C","x":559,"y":58.4},{"p":5,"s":"C","x":569,"y":62.2},{"p":5,"s":"C","x":585,"y":66},{"p":5,"s":"C","x":600,"y":66.4},{"p":5,"s":"C","x":631,"y":65.5},{"p":5,"s":"C","x":657,"y":65.5},{"p":5,"s":"C","x":671,"y":66.4},
{"p":5,"s":"S","x":336,"y":64.4},{"p":5,"s":"S","x":362,"y":63.7},{"p":5,"s":"S","x":383,"y":63},{"p":5,"s":"S","x":398,"y":60.7},{"p":5,"s":"S","x":416,"y":56.2},{"p":5,"s":"S","x":434,"y":58.4},{"p":5,"s":"S","x":455,"y":60.7},{"p":5,"s":"S","x":476,"y":59},{"p":5,"s":"S","x":497,"y":54.7},{"p":5,"s":"S","x":517,"y":51},{"p":5,"s":"S","x":538,"y":48.6},{"p":5,"s":"S","x":548,"y":46.4},{"p":5,"s":"S","x":559,"y":51},{"p":5,"s":"S","x":580,"y":54.7},{"p":5,"s":"S","x":595,"y":59},{"p":5,"s":"S","x":611,"y":60.7},{"p":5,"s":"S","x":631,"y":61.4},{"p":5,"s":"S","x":652,"y":62.2},{"p":5,"s":"S","x":671,"y":62.2}
]},
"data":{"name":"d"},
"resolve":{"scale":{"color":"independent"}},
"config":{
"font":"Liberation Serif",
"view":{"stroke":"#777777","strokeWidth":1.5},
"axis":{"labelFont":"Liberation Serif","titleFont":"Liberation Serif","labelFontSize":11,"titleFontSize":11,"titleFontWeight":"normal","labelColor":"#000000","titleColor":"#000000","domain":false,"tickColor":"#333333","tickSize":3.5,"tickWidth":0.8,"labelPadding":2,"gridColor":"#b0b0b0","gridDash":[3,2],"gridWidth":0.6,"gridOpacity":0.8,"labelFlush":false},
"axisY":{"titleX":-18},
"axisX":{"titlePadding":0,"labelPadding":1},
"legend":{"labelFont":"Liberation Serif"}
},
"vconcat":[
{"width":475,"height":61,"transform":[{"filter":"datum.p==1"}],
"encoding":{
"x":{"field":"x","type":"quantitative","scale":{"domain":[-33.5,704.5],"nice":false,"zero":false},"axis":{"values":[0,100,200,300,400,500,600,700],"labels":false,"title":null}},
"y":{"field":"y","type":"quantitative","scale":{"domain":[-3.4,70.4],"nice":false,"zero":false},"axis":{"values":[0,50],"title":"Value"}},
"color":{"field":"s","type":"nominal","scale":{"domain":["H","G","C","S"],"range":["#6e9bdc","#f3aa80","#1faa5e","#d9b2ec"]},"legend":{"orient":"top-left","offset":3,"title":null,"labelExpr":"{'H':'History','G':'Ground truth','C':'CPiRi','S':'Sundial'}[datum.label]","symbolType":"M-1.6,0H1.6","symbolSize":100,"symbolStrokeWidth":1.5,"labelFontSize":9,"fillColor":"rgba(255,255,255,0.85)","strokeColor":"#cccccc","cornerRadius":3,"padding":5,"rowPadding":0,"labelOffset":8}}
},
"layer":[
{"transform":[{"filter":"datum.s=='H'"}],"mark":{"type":"line","strokeWidth":1.2}},
{"transform":[{"filter":"datum.s=='G'"}],"mark":{"type":"line","strokeWidth":1}},
{"transform":[{"filter":"datum.s=='S'"}],"mark":{"type":"line","strokeWidth":1}},
{"transform":[{"filter":"datum.s=='C'"}],"mark":{"type":"line","strokeWidth":1.6}}
]},
{"width":475,"height":61,"transform":[{"filter":"datum.p==2"}],
"encoding":{
"x":{"field":"x","type":"quantitative","scale":{"domain":[-33.5,704.5],"nice":false,"zero":false},"axis":{"values":[0,100,200,300,400,500,600,700],"labels":false,"title":null}},
"y":{"field":"y","type":"quantitative","scale":{"domain":[-3,63],"nice":false,"zero":false},"axis":{"values":[0,50],"title":"Value"}},
"color":{"field":"s","type":"nominal","scale":{"domain":["H","G","C","S"],"range":["#6e9bdc","#f3aa80","#1faa5e","#d9b2ec"]},"legend":null}
},
"layer":[
{"transform":[{"filter":"datum.s=='H'"}],"mark":{"type":"line","strokeWidth":1.2}},
{"transform":[{"filter":"datum.s=='G'"}],"mark":{"type":"line","strokeWidth":1}},
{"transform":[{"filter":"datum.s=='S'"}],"mark":{"type":"line","strokeWidth":1}},
{"transform":[{"filter":"datum.s=='C'"}],"mark":{"type":"line","strokeWidth":1.6}}
]},
{"width":475,"height":61,"transform":[{"filter":"datum.p==3"}],
"encoding":{
"x":{"field":"x","type":"quantitative","scale":{"domain":[-33.5,704.5],"nice":false,"zero":false},"axis":{"values":[0,100,200,300,400,500,600,700],"labels":false,"title":null}},
"y":{"field":"y","type":"quantitative","scale":{"domain":[-3.5,74.5],"nice":false,"zero":false},"axis":{"values":[0,50],"title":"Value"}},
"color":{"field":"s","type":"nominal","scale":{"domain":["H","G","C","S"],"range":["#6e9bdc","#f3aa80","#1faa5e","#d9b2ec"]},"legend":null}
},
"layer":[
{"transform":[{"filter":"datum.s=='H'"}],"mark":{"type":"line","strokeWidth":1.2}},
{"transform":[{"filter":"datum.s=='G'"}],"mark":{"type":"line","strokeWidth":1}},
{"transform":[{"filter":"datum.s=='S'"}],"mark":{"type":"line","strokeWidth":1}},
{"transform":[{"filter":"datum.s=='C'"}],"mark":{"type":"line","strokeWidth":1.6}}
]},
{"width":475,"height":61,"transform":[{"filter":"datum.p==4"}],
"encoding":{
"x":{"field":"x","type":"quantitative","scale":{"domain":[-33.5,704.5],"nice":false,"zero":false},"axis":{"values":[0,100,200,300,400,500,600,700],"labels":false,"title":null}},
"y":{"field":"y","type":"quantitative","scale":{"domain":[22.5,71.5],"nice":false,"zero":false},"axis":{"values":[25,50],"title":"Value"}},
"color":{"field":"s","type":"nominal","scale":{"domain":["H","G","C","S"],"range":["#6e9bdc","#f3aa80","#1faa5e","#d9b2ec"]},"legend":null}
},
"layer":[
{"transform":[{"filter":"datum.s=='H'"}],"mark":{"type":"line","strokeWidth":1.2}},
{"transform":[{"filter":"datum.s=='G'"}],"mark":{"type":"line","strokeWidth":1}},
{"transform":[{"filter":"datum.s=='S'"}],"mark":{"type":"line","strokeWidth":1}},
{"transform":[{"filter":"datum.s=='C'"}],"mark":{"type":"line","strokeWidth":1.6}}
]},
{"width":475,"height":61,"transform":[{"filter":"datum.p==5"}],
"encoding":{
"x":{"field":"x","type":"quantitative","scale":{"domain":[-33.5,704.5],"nice":false,"zero":false},"axis":{"values":[0,100,200,300,400,500,600,700],"title":"Time steps"}},
"y":{"field":"y","type":"quantitative","scale":{"domain":[42.9,70.5],"nice":false,"zero":false},"axis":{"values":[50,60,70],"title":"Value"}},
"color":{"field":"s","type":"nominal","scale":{"domain":["H","G","C","S"],"range":["#6e9bdc","#f3aa80","#1faa5e","#d9b2ec"]},"legend":null}
},
"layer":[
{"transform":[{"filter":"datum.s=='H'"}],"mark":{"type":"line","strokeWidth":1.2}},
{"transform":[{"filter":"datum.s=='G'"}],"mark":{"type":"line","strokeWidth":1}},
{"transform":[{"filter":"datum.s=='S'"}],"mark":{"type":"line","strokeWidth":1}},
{"transform":[{"filter":"datum.s=='C'"}],"mark":{"type":"line","strokeWidth":1.6}}
]}
]
}
